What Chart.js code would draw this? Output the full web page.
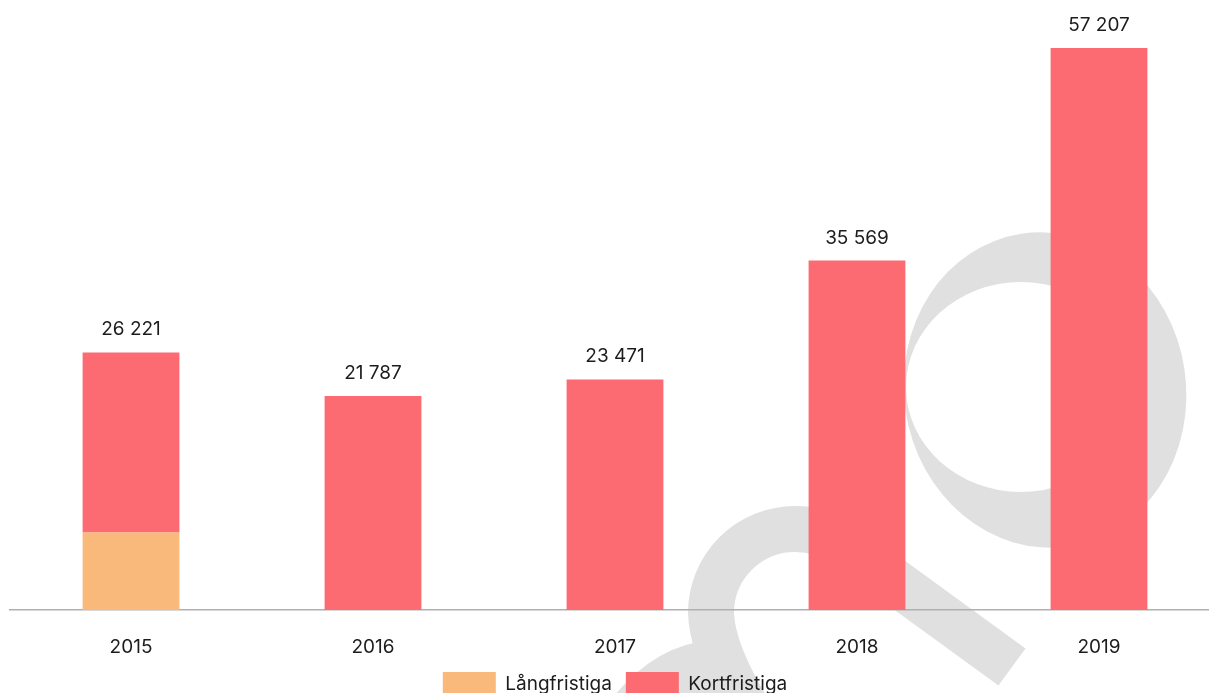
<!DOCTYPE html>
<html>
<head>
<meta charset="utf-8">
<script src="https://cdn.jsdelivr.net/npm/chart.js@4.4.1/dist/chart.umd.min.js"></script>
<style>
    html,body{margin:0;padding:0;background:#fff;overflow:hidden;}
    #wrap{position:absolute;left:0;top:0;width:1220px;height:706px;}
</style>
</head>
<body>
<div id="wrap"><canvas id="loanChart"></canvas></div>
<script>
const years = ["2015","2016","2017","2018","2019"];
const langfristiga = [7900, 0, 0, 0, 0];
const kortfristiga = [18321, 21787, 23471, 35569, 57207];
const yMax = 62100;

const FONT = "Inter, 'DejaVu Sans', sans-serif";
const TEXT = "#1c1c1c";

function fmt(n){
    return String(n).replace(/\B(?=(\d{3})+(?!\d))/g," ");
}

/* ===== grey logo behind the bars ===== */
const logoMark = {
    id:"logoMark",
    beforeDraw(chart){
        const ctx = chart.ctx;
        ctx.save();
        ctx.fillStyle = "#e0e0e0";
        ctx.strokeStyle = "#e0e0e0";

        // ring
        ctx.beginPath();
        ctx.ellipse(1045,390,141,158,-0.15,0,Math.PI*2);
        ctx.ellipse(1021,387,115,105,0,0,Math.PI*2);
        ctx.fill("evenodd");

        // hook with diagonal tail
        ctx.lineWidth = 46;
        ctx.lineJoin = "round";
        ctx.beginPath();
        ctx.moveTo(748,710);
        ctx.quadraticCurveTo(712,650,711,613);
        ctx.arc(795,613,84,Math.PI,Math.PI*2-0.9);
        ctx.lineTo(1012,667);
        ctx.stroke();

        // lower bowl
        ctx.beginPath();
        ctx.moveTo(694,622);
        ctx.quadraticCurveTo(700,640,698,642);
        ctx.quadraticCurveTo(645,652,603,710);
        ctx.lineTo(740,710);
        ctx.closePath();
        ctx.fill();
        ctx.restore();
    }
};

/* ===== totals above each column ===== */
const totals = {
    id:"totals",
    afterDatasetsDraw(chart){
        const ctx = chart.ctx;
        ctx.save();
        ctx.font = "19px " + FONT;
        ctx.fillStyle = TEXT;
        ctx.textAlign = "center";
        ctx.textBaseline = "alphabetic";
        years.forEach((y,i)=>{
            const total = langfristiga[i] + kortfristiga[i];
            const bar = chart.getDatasetMeta(1).data[i];
            ctx.fillText(fmt(total), bar.x, bar.y - 17);
        });
        ctx.restore();
    }
};

new Chart(document.getElementById("loanChart"),{
    type:"bar",
    data:{
        labels:years,
        datasets:[
            {
                label:"Långfristiga",
                data:langfristiga,
                backgroundColor:"#f8b97b"
            },
            {
                label:"Kortfristiga",
                data:kortfristiga,
                backgroundColor:"#fc6a72"
            }
        ]
    },
    options:{
        responsive:true,
        maintainAspectRatio:false,
        animation:false,
        categoryPercentage:1,
        barPercentage:0.4,
        layout:{padding:{left:10,right:0,top:0,bottom:0}},
        plugins:{
            tooltip:{enabled:false},
            legend:{
                position:"bottom",
                labels:{
                    boxWidth:53,
                    boxHeight:24,
                    padding:14,
                    color:TEXT,
                    font:{family:FONT,size:19}
                }
            }
        },
        scales:{
            x:{
                stacked:true,
                grid:{display:false,drawTicks:false},
                border:{display:true,color:"#b0b0b0",width:1.5},
                ticks:{color:TEXT,padding:26,font:{family:FONT,size:19}},
                afterFit(scale){ scale.height = 48; }
            },
            y:{
                stacked:true,
                display:false,
                min:0,
                max:yMax
            }
        }
    },
    plugins:[logoMark,totals]
});
</script>
</body>
</html>
